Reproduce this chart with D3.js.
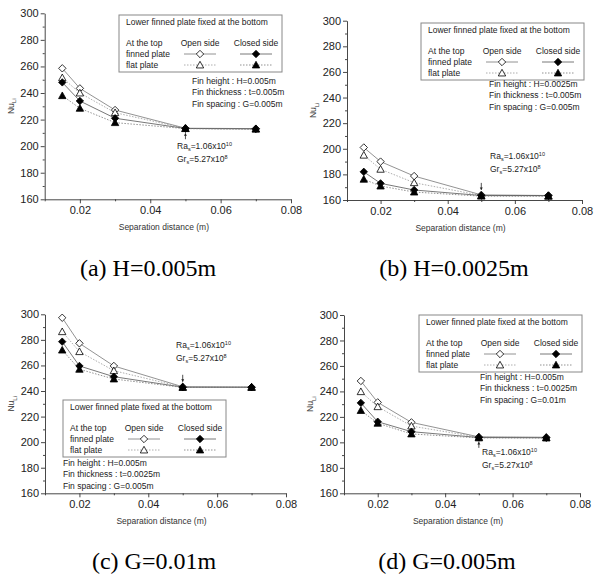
<!DOCTYPE html>
<html>
<head>
<meta charset="utf-8">
<script src="https://cdn.jsdelivr.net/npm/d3@7"></script>
<style>
  body { margin: 0; background: #fff; }
  svg { display: block; font-family: "Liberation Sans", Arial, sans-serif; }
  .caption { font-family: "Liberation Serif", "Times New Roman", serif; }
</style>
</head>
<body>
<div id="chart"></div>
<script>
'use strict';

// separation distance (m)
var xs = [0.015, 0.02, 0.03, 0.05, 0.07];
var xTicks = [0.02, 0.04, 0.06, 0.08];
var yTicks = [160, 180, 200, 220, 240, 260, 280, 300];

// (a) H=0.005m
var aOpenFinned   = [258.6, 243.5, 227.2, 213.5, 213.2];
var aOpenFlat     = [251.5, 240.0, 225.2, 213.3, 213.0];
var aClosedFinned = [248.0, 234.0, 221.0, 213.3, 213.0];
var aClosedFlat   = [238.0, 228.5, 217.7, 213.2, 212.8];

// (b) H=0.0025m
var bOpenFinned   = [201.0, 190.0, 178.7, 164.0, 163.5];
var bOpenFlat     = [195.0, 184.0, 173.5, 163.5, 163.0];
var bClosedFinned = [182.0, 173.0, 167.8, 163.5, 163.5];
var bClosedFlat   = [176.2, 170.9, 166.2, 163.0, 163.0];

// (c) G=0.01m
var cOpenFinned   = [297.3, 277.3, 259.6, 243.3, 243.0];
var cOpenFlat     = [286.4, 270.8, 255.9, 243.0, 243.0];
var cClosedFinned = [278.6, 259.6, 251.2, 243.0, 243.0];
var cClosedFlat   = [272.0, 257.0, 249.4, 242.8, 242.8];

// (d) G=0.005m
var dOpenFinned   = [248.2, 231.4, 215.7, 204.3, 204.0];
var dOpenFlat     = [239.8, 228.0, 212.8, 204.0, 203.8];
var dClosedFinned = [231.0, 216.2, 208.4, 203.8, 203.6];
var dClosedFlat   = [225.0, 215.0, 206.6, 203.5, 203.4];

var captions = ["(a) H=0.005m", "(b) H=0.0025m", "(c) G=0.01m", "(d) G=0.005m"];
var finInfo = [
    ["Fin height : H=0.005m", "Fin thickness : t=0.005m", "Fin spacing : G=0.005m"],
    ["Fin height : H=0.0025m", "Fin thickness : t=0.005m", "Fin spacing : G=0.005m"],
    ["Fin height : H=0.005m", "Fin thickness : t=0.0025m", "Fin spacing : G=0.005m"],
    ["Fin height : H=0.005m", "Fin thickness : t=0.0025m", "Fin spacing : G=0.01m"]
];

var panels = [
    { series: [aOpenFinned, aOpenFlat, aClosedFinned, aClosedFlat],
      x0: 44.7, x1: 291, yTop: 13.3, yBot: 199.3,
      legend: [119, 15], info: [192, 81], ra: [177, 146], arrowUp: true,
      cap: [148, 276] },
    { series: [bOpenFinned, bOpenFlat, bClosedFinned, bClosedFlat],
      x0: 347, x1: 582, yTop: 20.7, yBot: 200,
      legend: [421, 23], info: [489, 84], ra: [490, 156], arrowUp: false,
      cap: [454, 276] },
    { series: [cOpenFinned, cOpenFlat, cClosedFinned, cClosedFlat],
      x0: 45, x1: 286, yTop: 314.3, yBot: 493.3,
      legend: [63, 400], info: [63, 463], ra: [176, 345], arrowUp: false,
      cap: [154, 569] },
    { series: [dOpenFinned, dOpenFlat, dClosedFinned, dClosedFlat],
      x0: 344, x1: 580, yTop: 315, yBot: 493.3,
      legend: [419, 315], info: [480, 377], ra: [482, 452], arrowUp: true,
      cap: [447, 569] }
];

// open finned, open flat, closed finned, closed flat
var styles = [
    { shape: "diamond", fill: "#fff", dash: null, line: "#777" },
    { shape: "triangle", fill: "#fff", dash: "1.5,1.5", line: "#999" },
    { shape: "diamond", fill: "#000", dash: null, line: "#555" },
    { shape: "triangle", fill: "#000", dash: "1.5,1.5", line: "#777" }
];

var svg = d3.select("#chart").append("svg")
    .attr("width", 594)
    .attr("height", 575);

function marker(g, shape, fill, cx, cy) {
    var p;
    if (shape === "diamond") {
        var r = 3.7;
        p = "M" + cx + "," + (cy - r) + "L" + (cx + r) + "," + cy + "L" + cx + "," + (cy + r) + "L" + (cx - r) + "," + cy + "Z";
    } else {
        var s = 3.7;
        p = "M" + cx + "," + (cy - s) + "L" + (cx + s) + "," + (cy + s * 0.8) + "L" + (cx - s) + "," + (cy + s * 0.8) + "Z";
    }
    g.append("path").attr("d", p)
        .attr("fill", fill)
        .attr("stroke", "#000")
        .attr("stroke-width", 0.8);
}

panels.forEach(function (p, pi) {
    var g = svg.append("g");

    var x = d3.scaleLinear().domain([0.01, 0.08]).range([p.x0, p.x1]);
    var y = d3.scaleLinear().domain([160, 300]).range([p.yBot, p.yTop]);

    // axes
    var xAxis = g.append("g")
        .attr("transform", "translate(0," + p.yBot + ")")
        .call(d3.axisBottom(x).tickValues(xTicks).tickSize(4).tickPadding(3)
            .tickFormat(d3.format(".2f")).tickSizeOuter(0));
    g.append("g")
        .attr("transform", "translate(0," + p.yBot + ")")
        .call(d3.axisBottom(x).tickValues([0.01, 0.03, 0.05, 0.07]).tickSize(2)
            .tickFormat("").tickSizeOuter(0))
        .select(".domain").remove();
    var yAxis = g.append("g")
        .attr("transform", "translate(" + p.x0 + ",0)")
        .call(d3.axisLeft(y).tickValues(yTicks).tickSize(4).tickPadding(2).tickSizeOuter(0));
    g.append("g")
        .attr("transform", "translate(" + p.x0 + ",0)")
        .call(d3.axisLeft(y).tickValues(d3.range(170, 300, 20)).tickSize(2)
            .tickFormat("").tickSizeOuter(0))
        .select(".domain").remove();

    g.selectAll(".domain, .tick line").attr("stroke", "#333").attr("stroke-width", 0.9);
    xAxis.selectAll("text").style("font-size", "11px").attr("fill", "#222");
    yAxis.selectAll("text").style("font-size", "11px").attr("fill", "#222");

    // axis titles
    g.append("text")
        .attr("x", (p.x0 + p.x1) / 2 - 4)
        .attr("y", p.yBot + 31)
        .attr("text-anchor", "middle")
        .style("font-size", "8.5px")
        .attr("fill", "#333")
        .text("Separation distance (m)");

    var yl = g.append("text")
        .attr("transform", "translate(" + (p.x0 - 31) + "," + ((p.yTop + p.yBot) / 2) + ") rotate(-90)")
        .attr("text-anchor", "middle")
        .style("font-size", "8.5px")
        .attr("fill", "#333");
    yl.append("tspan").text("Nu");
    yl.append("tspan").attr("dy", 2.5).style("font-size", "6px").text("Li");

    // lines
    var line = d3.line()
        .x(function (d) { return x(d[0]); })
        .y(function (d) { return y(d[1]); });

    p.series.forEach(function (vals, si) {
        var st = styles[si];
        var pts = xs.map(function (xv, i) { return [xv, vals[i]]; });
        g.append("path")
            .datum(pts)
            .attr("d", line)
            .attr("fill", "none")
            .attr("stroke", st.line)
            .attr("stroke-width", 0.8)
            .attr("stroke-dasharray", st.dash);
    });
    p.series.forEach(function (vals, si) {
        var st = styles[si];
        xs.forEach(function (xv, i) {
            marker(g, st.shape, st.fill, x(xv), y(vals[i]));
        });
    });

    // legend
    var lx = p.legend[0], ly = p.legend[1];
    var lg = g.append("g").attr("transform", "translate(" + lx + "," + ly + ")");
    lg.append("rect")
        .attr("width", 163).attr("height", 57)
        .attr("fill", "#fff")
        .attr("stroke", "#888")
        .attr("stroke-width", 1);
    var lt = [
        ["Lower finned plate fixed at the bottom", 7, 10, "start"],
        ["At the top", 7, 31, "start"],
        ["finned plate", 7, 42, "start"],
        ["flat plate", 7, 53, "start"],
        ["Open side", 81, 31, "middle"],
        ["Closed side", 137, 31, "middle"]
    ];
    lt.forEach(function (t) {
        lg.append("text")
            .attr("x", t[1]).attr("y", t[2])
            .attr("text-anchor", t[3])
            .style("font-size", "8.5px")
            .attr("fill", "#222")
            .text(t[0]);
    });
    [[81, 39, 0], [81, 50, 1], [137, 39, 2], [137, 50, 3]].forEach(function (m) {
        var st = styles[m[2]];
        lg.append("line")
            .attr("x1", m[0] - 16).attr("x2", m[0] + 16)
            .attr("y1", m[1]).attr("y2", m[1])
            .attr("stroke", st.line)
            .attr("stroke-width", 0.8)
            .attr("stroke-dasharray", st.dash);
        marker(lg, st.shape, st.fill, m[0], m[1]);
    });

    // fin info
    finInfo[pi].forEach(function (t, i) {
        g.append("text")
            .attr("x", p.info[0]).attr("y", p.info[1] + 3 + i * 11.3)
            .style("font-size", "8.5px")
            .attr("fill", "#222")
            .text(t);
    });

    // Ra / Gr annotation
    var ra = g.append("text")
        .attr("x", p.ra[0]).attr("y", p.ra[1] + 3)
        .style("font-size", "8.5px").attr("fill", "#222");
    ra.append("tspan").text("Ra");
    ra.append("tspan").attr("dy", 2).style("font-size", "5.5px").text("s");
    ra.append("tspan").attr("dy", -2).text("=1.06x10");
    ra.append("tspan").attr("dy", -3.5).style("font-size", "5.5px").text("10");

    var gr = g.append("text")
        .attr("x", p.ra[0]).attr("y", p.ra[1] + 16)
        .style("font-size", "8.5px").attr("fill", "#222");
    gr.append("tspan").text("Gr");
    gr.append("tspan").attr("dy", 2).style("font-size", "5.5px").text("s");
    gr.append("tspan").attr("dy", -2).text("=5.27x10");
    gr.append("tspan").attr("dy", -3.5).style("font-size", "5.5px").text("8");

    // little arrow at x = 0.05
    var ax = x(0.05);
    var py = y(p.series[0][3]);
    var a0, a1;
    if (p.arrowUp) { a0 = py + 11; a1 = py + 5; }
    else { a0 = py - 12; a1 = py - 5; }
    g.append("line")
        .attr("x1", ax).attr("x2", ax).attr("y1", a0).attr("y2", a1)
        .attr("stroke", "#222").attr("stroke-width", 0.8);
    var dir = p.arrowUp ? -1 : 1;
    g.append("path")
        .attr("d", "M" + (ax - 1.5) + "," + (a1 - dir * 2.5) + "L" + ax + "," + a1 + "L" + (ax + 1.5) + "," + (a1 - dir * 2.5) + "Z")
        .attr("fill", "#222");

    // caption
    svg.append("text")
        .attr("class", "caption")
        .attr("x", p.cap[0]).attr("y", p.cap[1])
        .attr("text-anchor", "middle")
        .style("font-size", "24px")
        .attr("fill", "#000")
        .text(captions[pi]);
});
</script>
</body>
</html>
